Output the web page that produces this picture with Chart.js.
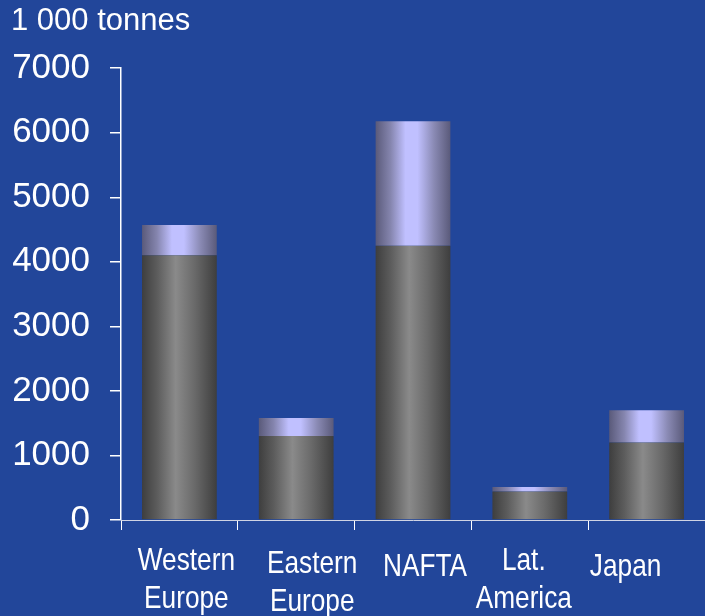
<!DOCTYPE html>
<html>
<head>
<meta charset="utf-8">
<script src="https://cdn.jsdelivr.net/npm/chart.js@4"></script>
<style>
  html, body { margin: 0; padding: 0; background: #22469a; }
  #wrap { width: 705px; height: 616px; }
</style>
</head>
<body>
<div id="wrap"><canvas id="chart"></canvas></div>
<script>
// Data
const regions = [['Western', 'Europe'], ['Eastern', 'Europe'], 'NAFTA', ['Lat.', 'America'], 'Japan'];
const baseValues = [4100, 1300, 4250, 440, 1200];
const topValues = [470, 280, 1930, 70, 500];
const yTicks = [0, 1000, 2000, 3000, 4000, 5000, 6000, 7000];
const unitLabel = '1 000 tonnes';

const BAR_PCT = 0.64;
const greyShade = [[0, '#3e3e3e'], [0.2, '#5c5c5c'], [0.45, '#8a8a8a'], [0.7, '#6a6a6a'], [1, '#3e3e3e']];
const lilacShade = [[0, '#5a5a7a'], [0.2, '#8585ae'], [0.4, '#c0c0ff'], [0.56, '#c0c0ff'], [0.78, '#8a8ab4'], [1, '#5a5a7a']];
// hand placed labels in the original sit a bit off the category centres
const labelNudge = [[7, 0], [16, 3], [12, 6], [-6, 0], [-21, 6]];

// horizontal cylinder-like shading, built from the x scale
const shade = (stops) => (context) => {
  const chart = context.chart;
  const xs = chart.scales.x;
  if (!chart.chartArea || !xs || context.type !== 'data') return stops[2][1];
  const cx = xs.getPixelForValue(context.dataIndex);
  const w = (xs.width / chart.data.labels.length) * BAR_PCT;
  const g = chart.ctx.createLinearGradient(cx - w / 2, 0, cx + w / 2, 0);
  stops.forEach(([s, c]) => g.addColorStop(s, c));
  return g;
};

// condensed category labels under the x axis
const categoryLabels = {
  id: 'categoryLabels',
  afterDraw: (chart) => {
    const ctx = chart.ctx;
    const xs = chart.scales.x;
    ctx.save();
    ctx.fillStyle = '#ffffff';
    ctx.font = "32px 'Liberation Sans', Arial, sans-serif";
    ctx.textAlign = 'center';
    ctx.textBaseline = 'alphabetic';
    chart.data.labels.forEach((lab, i) => {
      const [dx, dy] = labelNudge[i];
      const cx = xs.getPixelForValue(i) + dx;
      [].concat(lab).forEach((line, k) => {
        ctx.save();
        ctx.translate(cx, xs.top + 50 + dy + k * 38);
        ctx.scale(0.82, 1);
        ctx.fillText(line, 0, 0);
        ctx.restore();
      });
    });
    ctx.restore();
  }
};

const data = {
  labels: regions,
  datasets: [
    { data: baseValues, backgroundColor: shade(greyShade) },
    { data: topValues, backgroundColor: shade(lilacShade) }
  ]
};

const options = {
  responsive: true,
  maintainAspectRatio: false,
  animation: false,
  layout: { padding: { top: 0, right: 0, bottom: 0, left: 11 } },
  datasets: {
    bar: { categoryPercentage: 1, barPercentage: BAR_PCT, borderWidth: 0 }
  },
  plugins: {
    legend: { display: false },
    tooltip: { enabled: false },
    title: {
      display: true,
      text: unitLabel,
      align: 'start',
      color: '#ffffff',
      font: { family: "'Liberation Sans', Arial, sans-serif", size: 31, weight: 'normal' },
      padding: { top: 3, bottom: 28 }
    }
  },
  scales: {
    x: {
      stacked: true,
      afterFit: (scale) => { scale.height = 96; },
      grid: { display: true, drawOnChartArea: false, drawTicks: true, tickLength: 10, color: '#ffffff', offset: true },
      border: { display: true, color: '#d0d4e4', width: 1 },
      ticks: { display: false }
    },
    y: {
      stacked: true,
      min: 0,
      max: 7000,
      afterBuildTicks: (scale) => { scale.ticks = yTicks.map(v => ({ value: v })); },
      afterFit: (scale) => { scale.width = 110; },
      grid: { display: true, drawOnChartArea: false, drawTicks: true, tickLength: 11, color: '#ffffff', lineWidth: 1.5 },
      border: { display: true, color: '#ffffff', width: 1.5 },
      ticks: {
        color: '#ffffff',
        padding: 20,
        callback: (v) => String(v),
        font: { family: "'Liberation Sans', Arial, sans-serif", size: 35 }
      }
    }
  }
};

new Chart(document.getElementById('chart').getContext('2d'), {
  type: 'bar',
  data,
  options,
  plugins: [categoryLabels]
});
</script>
</body>
</html>
